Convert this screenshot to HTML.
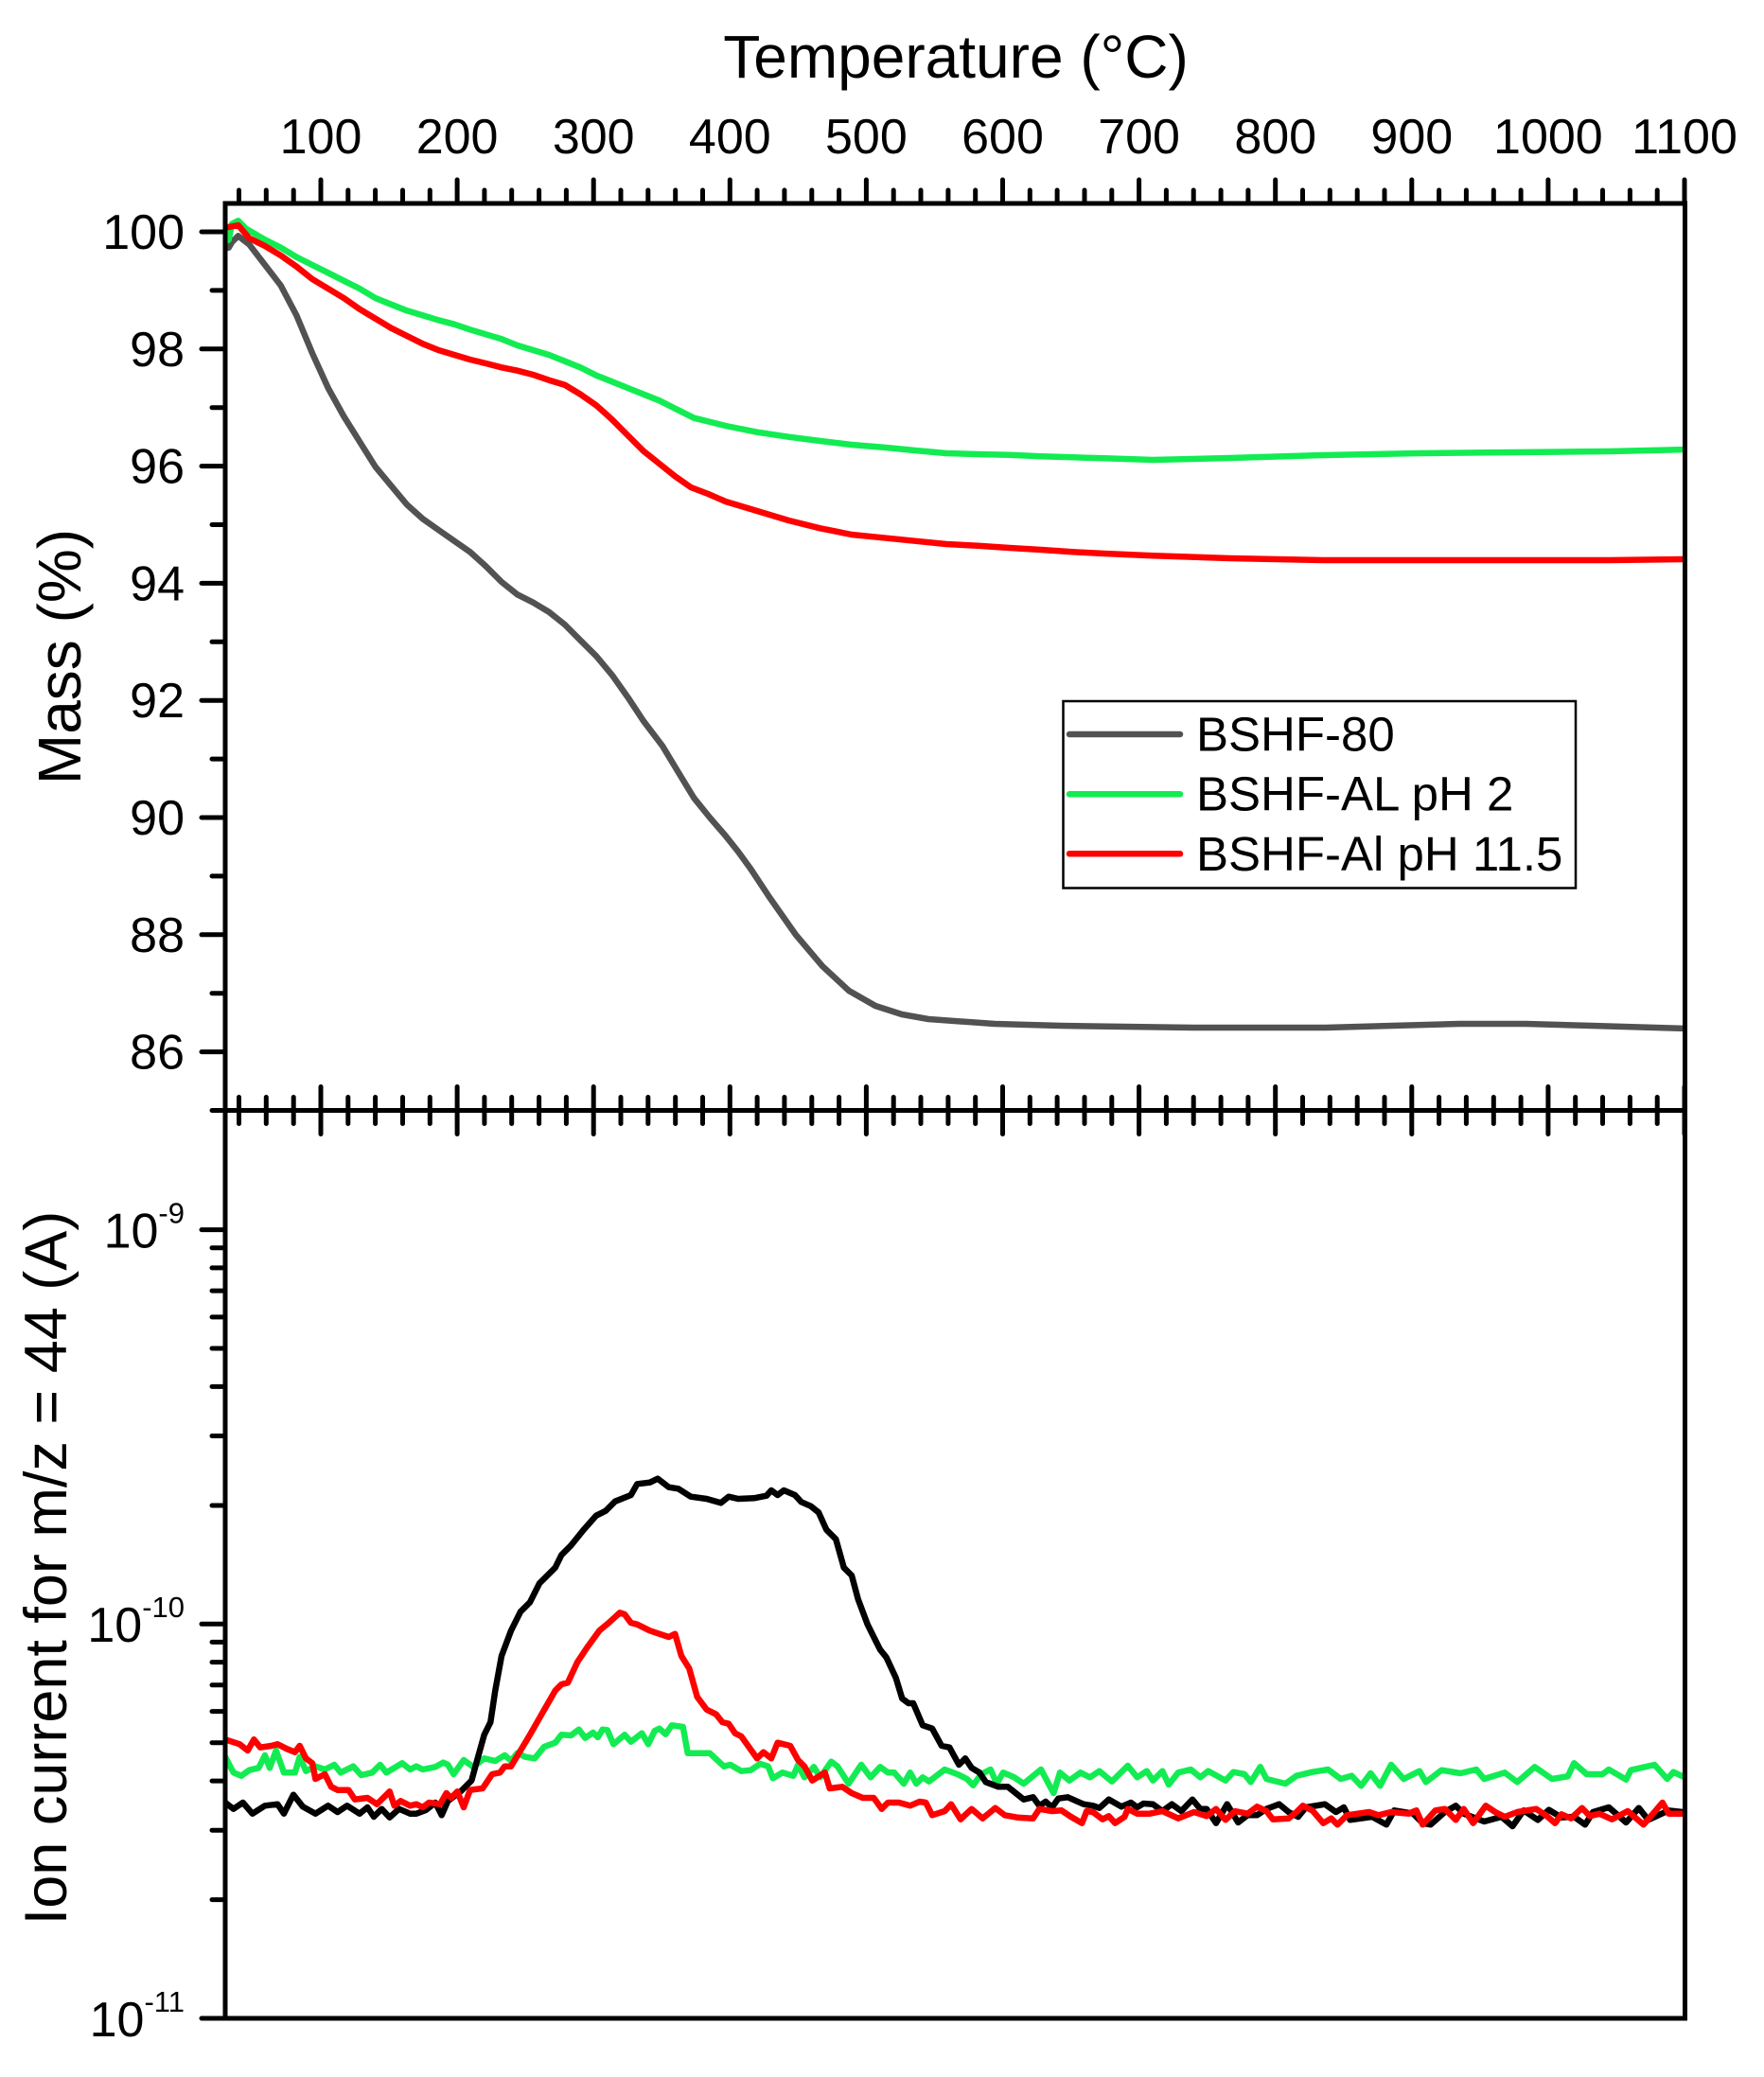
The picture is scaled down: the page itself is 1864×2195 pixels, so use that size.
<!DOCTYPE html>
<html>
<head>
<meta charset="utf-8">
<style>
html,body{margin:0;padding:0;background:#fff;}
svg{display:block;}
text{font-family:"Liberation Sans",Arial,sans-serif;fill:#000;}
</style>
</head>
<body>
<svg width="1864" height="2195" viewBox="0 0 1864 2195" xmlns="http://www.w3.org/2000/svg">
<defs>
<clipPath id="cTop"><rect x="238" y="215" width="1542.5" height="958.5"/></clipPath>
<clipPath id="cBot"><rect x="238" y="1173.5" width="1542.5" height="959.5"/></clipPath>
</defs>
<rect width="1864" height="2195" fill="#fff"/>

<!-- Title -->
<text x="1010" y="82" font-size="64" text-anchor="middle">Temperature (°C)</text>

<!-- Top tick labels -->
<g font-size="52" text-anchor="middle">
<text x="339" y="162">100</text>
<text x="483.1" y="162">200</text>
<text x="627.2" y="162">300</text>
<text x="771.3" y="162">400</text>
<text x="915.4" y="162">500</text>
<text x="1059.5" y="162">600</text>
<text x="1203.6" y="162">700</text>
<text x="1347.7" y="162">800</text>
<text x="1491.8" y="162">900</text>
<text x="1635.9" y="162">1000</text>
<text x="1780" y="162">1100</text>
</g>

<!-- Y labels top -->
<g font-size="52" text-anchor="end">
<text x="195" y="263">100</text>
<text x="195" y="386.8">98</text>
<text x="195" y="510.6">96</text>
<text x="195" y="634.4">94</text>
<text x="195" y="758.2">92</text>
<text x="195" y="882">90</text>
<text x="195" y="1005.8">88</text>
<text x="195" y="1129.6">86</text>
</g>

<!-- Y labels bottom (log) -->
<g font-size="52" text-anchor="end">
<text x="195" y="1318.5">10<tspan font-size="31" dy="-26">-9</tspan></text>
<text x="195" y="1735">10<tspan font-size="31" dy="-26">-10</tspan></text>
<text x="195" y="2152">10<tspan font-size="31" dy="-26">-11</tspan></text>
</g>

<!-- Axis titles -->
<text transform="translate(85,694) rotate(-90)" font-size="64" text-anchor="middle">Mass (%)</text>
<text transform="translate(70,1657) rotate(-90)" font-size="63" text-anchor="middle">Ion current for m/z = 44 (A)</text>

<!-- Curves top -->
<g clip-path="url(#cTop)" fill="none" stroke-width="6.5" stroke-linejoin="round" stroke-linecap="round">
<path stroke="#525252" d="M238,262 L241.7,261.7 L245,256 L251.7,249.3 L263.3,258.3 L280,280 L296.7,301.7 L313.3,333.3 L330,373.3 L346.7,410 L363.3,440 L380,466.7 L396.7,493.3 L413.3,513.3 L430,533.3 L446.7,548.3 L463.3,560 L480,571.7 L496.7,583.3 L513.3,598.3 L530,615 L546.7,628.3 L563.3,636.7 L580,646.7 L596.7,660 L613.3,676.7 L630,693.3 L646.7,713.3 L663.3,736.7 L680,762 L700,788.3 L716.7,816 L733.3,843.3 L750,864 L766.7,883.3 L780,900 L793.3,918.3 L812.9,948 L841,988 L869,1021 L897,1047 L925,1063 L953,1072 L981,1077 L1051,1082 L1121,1084 L1261,1086 L1401,1086 L1471,1084 L1542,1082 L1612,1082 L1682,1084 L1782,1087"/>
<path stroke="#12ec52" d="M238,255 L241.7,253.3 L245,236.7 L251.7,233.3 L260,241.7 L280,253.3 L296.7,261.7 L313.3,271.7 L330,280 L346.7,288.3 L363.3,296.7 L380,305 L396.7,315 L413.3,321.7 L430,328.3 L446.7,333.3 L463.3,338.3 L480,342.7 L496.7,348.3 L513.3,353.3 L530,358.3 L546.7,365 L563.3,370 L580,375 L596.7,381.7 L613.3,388.3 L630,396.7 L646.7,403.3 L663.3,410 L680,416.7 L696.7,423.3 L713.3,431.7 L733.3,441.7 L766.7,450 L800,456.7 L833.3,461.7 L866.7,466 L900,470 L933.3,472.7 L966.7,476 L1000,479 L1033.3,480 L1066.7,480.7 L1100,482.3 L1133.3,483.3 L1166.7,484.3 L1218.3,486 L1300,484 L1400,481 L1500,479 L1600,478 L1700,477 L1782,475"/>
<path stroke="#ff0000" d="M238,240 L241.7,240 L251.7,238 L263.3,251.7 L280,260 L296.7,270 L313.3,281.7 L330,295 L346.7,305 L363.3,315 L380,326.7 L396.7,336.7 L413.3,346.7 L430,355 L446.7,363.3 L463.3,370 L480,375 L496.7,380 L513.3,384 L530,388.3 L546.7,391.7 L563.3,396 L580,401.7 L596.7,406.7 L613.3,416.7 L630,428.3 L646.7,443.3 L663.3,460 L680,476.7 L696.7,490 L713.3,503.3 L730,515 L748.3,522 L766.7,530 L800,540 L833.3,550 L866.7,558.3 L900,565 L933.3,568.3 L966.7,571.7 L1000,575 L1033.3,576.7 L1066.7,579 L1100,581 L1133.3,583.3 L1166.7,585 L1218.3,587.3 L1300,590 L1400,592 L1500,592 L1600,592 L1700,592 L1782,591"/>
</g>

<!-- Curves bottom -->
<g clip-path="url(#cBot)" fill="none" stroke-width="6.5" stroke-linejoin="round" stroke-linecap="round">
<path stroke="#12ec52" d="M238,1856.7 L246.7,1873.3 L255,1876.7 L263.3,1870.7 L273.3,1868.3 L280,1855 L285,1868.3 L291.7,1850 L300,1873.3 L311.7,1873.3 L316.7,1856.7 L323.3,1871.7 L333.3,1866.7 L343.3,1870 L353.3,1865 L360,1873.3 L373.3,1866.7 L381.7,1876 L393.3,1873.3 L401.7,1865 L408.3,1873.3 L416.7,1868.3 L425,1863.3 L433.3,1870 L440,1866.7 L446.7,1870 L460,1867.3 L468.3,1862.7 L473.3,1865 L479.3,1875 L490,1860 L500,1867.3 L511.7,1858.3 L523.3,1861 L533.3,1855 L540,1860.7 L546.7,1852.7 L555,1856.7 L565,1858.3 L575,1846 L586.7,1841.7 L593.3,1833.3 L603.3,1834 L611.7,1827.7 L618.3,1836.7 L626.7,1831 L631.7,1836 L636.7,1827.7 L641.7,1828.3 L648.3,1843.3 L660,1833.3 L666.7,1840.7 L678.3,1831.7 L685,1843.3 L691.7,1829.3 L696.7,1826.7 L703.3,1832.7 L710,1823.3 L721.7,1825 L726.7,1852.7 L750,1852.7 L765,1866.7 L771.7,1865 L783.3,1871.7 L793.3,1870.7 L803.3,1864 L811.7,1866.7 L816.7,1879.3 L826.7,1873.3 L838.3,1876.7 L843.3,1865 L850,1878.3 L860,1867.3 L866.7,1878.3 L878.3,1861.7 L885,1866.7 L896.7,1885 L910,1865 L920,1878.3 L930,1867.3 L938.3,1873.3 L945,1873.3 L955,1885 L961.7,1873.3 L968.3,1885 L975,1878.3 L981.7,1882.7 L998.3,1870 L1011.7,1875 L1021.7,1880 L1028.3,1886.7 L1036.7,1875 L1046.7,1870 L1053.3,1885 L1060,1873.3 L1071.7,1878.3 L1081.7,1885 L1100,1870 L1113.3,1895 L1120,1873.3 L1130,1881.7 L1141.7,1873.3 L1151.7,1878.3 L1161.7,1871.7 L1175,1882.7 L1191.7,1866 L1201.7,1878.3 L1211.7,1871.7 L1218.3,1881.7 L1228.3,1871.7 L1235,1886 L1245,1873.3 L1258.3,1870 L1268.3,1878.3 L1276.7,1871.7 L1295,1881.7 L1303.3,1872.7 L1315,1875 L1321.7,1883.3 L1331.7,1867.3 L1338.3,1880 L1358.3,1885 L1370,1876.7 L1386.7,1872.7 L1403.3,1870 L1416.7,1880 L1428.3,1876.7 L1438.3,1887.3 L1448.3,1874 L1458.3,1887.3 L1470,1865 L1483.3,1880 L1500,1871.7 L1506.7,1883.3 L1523.3,1870.7 L1543.3,1874 L1560,1870 L1568.3,1880 L1590,1873.3 L1603.3,1883.3 L1621.7,1867.3 L1640,1880 L1656.7,1877.3 L1663.3,1863.3 L1676.7,1875 L1693.3,1875 L1700,1870 L1718.3,1880.7 L1723.3,1870.7 L1748.3,1865 L1761.7,1880 L1768.3,1872.7 L1778,1877.3"/>
<path stroke="#000000" d="M238,1905 L246.7,1911.7 L256.7,1905 L266.7,1916.7 L280,1908.3 L293.3,1906.7 L300,1916.7 L310,1896.7 L320,1909.3 L333.3,1916.7 L346.7,1908.3 L356.7,1915 L366.7,1908.3 L380,1916.7 L388.3,1910 L395,1920 L403.3,1911.7 L411.7,1920.7 L421.7,1911.7 L433.3,1916.7 L440,1916.7 L450,1913 L460,1905 L466.7,1918.3 L473.3,1903.3 L486.7,1893.3 L498.3,1881.7 L503.3,1863.3 L511.7,1833.3 L518.3,1820 L523.3,1786.7 L530,1750 L540,1723.3 L550,1703.3 L560,1693.3 L570,1673.3 L576.7,1666.7 L586.7,1656.7 L593.3,1643.3 L603.3,1633.3 L616.7,1616.7 L630,1601.7 L640,1596.7 L650,1586.7 L666.7,1580 L673.3,1568.3 L686.7,1566.7 L695,1562.7 L706.7,1571.7 L716.7,1573.3 L730,1581.7 L746.7,1584 L761.7,1588.3 L770,1581.7 L780,1584 L796.7,1583.3 L810,1580.7 L815,1575 L821.7,1580 L828.3,1575 L840,1580 L846.7,1587.3 L856.7,1591.7 L865,1598.3 L873.3,1616.7 L883.3,1626.7 L891.7,1656.7 L900,1665 L906.7,1690 L916.7,1716.7 L923.3,1730 L930,1743.3 L936.7,1751.7 L946.7,1773.3 L953.3,1795 L960,1800 L965,1800 L975,1823.3 L985,1826.7 L995,1845 L1003.3,1846.7 L1013.3,1865 L1020,1858.3 L1026.7,1868.3 L1035,1873.3 L1041.7,1883.3 L1055,1888.3 L1065,1888.3 L1081.7,1901.7 L1091.7,1899.3 L1098.3,1908.3 L1105,1904 L1111.7,1910 L1118.3,1900.7 L1128.3,1899.3 L1145,1906.7 L1155,1908.3 L1161.7,1910.7 L1171.7,1901.7 L1185,1909.3 L1195,1905 L1201.7,1910 L1208.3,1906 L1218.3,1906.7 L1228.3,1914 L1238.3,1906.7 L1248.3,1914 L1260,1901.7 L1268.3,1911.7 L1275,1911.7 L1285,1926.7 L1296.7,1906.7 L1308.3,1926 L1318.3,1918.3 L1328.3,1918.3 L1338.3,1911.7 L1351.7,1906.7 L1361.7,1915 L1371.7,1920 L1380,1910 L1400,1906.7 L1411.7,1915 L1420,1910 L1426.7,1923.3 L1450,1920 L1465,1928.3 L1473.3,1913.3 L1483.3,1915 L1493.3,1916.7 L1503.3,1926.7 L1511.7,1928.3 L1526.7,1915 L1538.3,1908.3 L1546.7,1916.7 L1568.3,1925 L1586.7,1920 L1598.3,1930 L1610,1913.3 L1625,1923.3 L1636.7,1912.7 L1650,1920.7 L1663.3,1920 L1675,1928.3 L1683.3,1915 L1700,1910 L1718.3,1926 L1731.7,1910.7 L1741.7,1923.3 L1763.3,1913.3 L1778,1915"/>
<path stroke="#ff0000" d="M238,1838.3 L253.3,1843.3 L261.7,1850 L268.3,1838.3 L275,1846.7 L286.7,1845 L293.3,1843.3 L303.3,1848.3 L311.7,1851.7 L316.7,1845 L323.3,1858.3 L330,1863.3 L333.3,1880 L343.3,1875 L350,1888.3 L356.7,1891.7 L368.3,1891.7 L375,1901.7 L388.3,1900 L398.3,1906.7 L411.7,1893.3 L416.7,1908.3 L423.3,1903.3 L433.3,1908.3 L440,1906.7 L446.7,1910 L453.3,1905 L465,1906.7 L471.7,1895 L476.7,1900 L483.3,1893.3 L490,1910 L496.7,1891.7 L510,1890 L520,1875 L528.3,1873.3 L533.3,1866.7 L540,1866.7 L550,1850 L560,1833.3 L573.3,1810 L586.7,1786.7 L593.3,1780 L600,1778.3 L610,1756.7 L620,1741.7 L633.3,1723.3 L643.3,1715 L655,1704.3 L660,1706 L666.7,1715 L673.3,1716.7 L686.7,1723.3 L696.7,1726.7 L706.7,1730 L713.3,1726.7 L720,1750 L728.3,1763.3 L736.7,1793.3 L746.7,1806.7 L756.7,1811.7 L763.3,1820 L770,1821.7 L776.7,1831.7 L783.3,1835 L800,1858.3 L806.7,1851.7 L815,1858.3 L821.7,1841.7 L835,1845 L843.3,1860 L850,1866.7 L858.3,1881.7 L871.7,1873.3 L876.7,1890 L890,1888.3 L900,1895 L911.7,1900 L923.3,1900 L931.7,1911.7 L938.3,1905 L950,1905 L961.7,1908.3 L971.7,1904 L978.3,1905 L985,1918.3 L998.3,1914 L1005,1906.7 L1015,1922.7 L1026.7,1911.7 L1038.3,1921.7 L1051.7,1910.7 L1061.7,1918.3 L1075,1920.7 L1091.7,1921.7 L1098.3,1911.7 L1111.7,1914 L1121.7,1913.3 L1131.7,1920 L1143.3,1926.7 L1148.3,1914 L1155,1915 L1165,1922.7 L1171.7,1919.3 L1178.3,1926.7 L1188.3,1920 L1191.7,1911.7 L1201.7,1916.7 L1215,1916.7 L1228.3,1914 L1245,1921.7 L1261.7,1915 L1275,1919.3 L1285,1911.7 L1295,1923.3 L1305,1914 L1318.3,1916.7 L1328.3,1909.3 L1338.3,1914 L1345,1922.7 L1361.7,1921.7 L1370,1915 L1376.7,1908.3 L1386.7,1913.3 L1398.3,1926.7 L1406.7,1921.7 L1413.3,1928.3 L1423.3,1918.3 L1446.7,1915 L1456.7,1918.3 L1470,1915 L1488.3,1916.7 L1496.7,1913.3 L1503.3,1928.3 L1516.7,1913.3 L1526.7,1911.7 L1538.3,1923.3 L1546.7,1911.7 L1556.7,1926.7 L1570,1908.3 L1580,1915 L1590,1920 L1603.3,1915 L1623.3,1911.7 L1633.3,1918.3 L1643.3,1926.7 L1650,1917.3 L1660,1921.7 L1671.7,1910.7 L1680,1919.3 L1690,1916.7 L1703.3,1922.7 L1720,1914 L1736.7,1928.3 L1746.7,1916.7 L1756.7,1905 L1763.3,1916.7 L1778,1916.7"/>
</g>

<!-- Axes -->
<g stroke="#000" stroke-width="5" fill="none" stroke-linecap="round">
<rect x="238" y="215" width="1542.5" height="1918" stroke-linecap="butt"/>
<line x1="238" y1="1173.5" x2="1780.5" y2="1173.5"/>
</g>

<!-- Ticks -->
<g stroke="#000" stroke-width="5" stroke-linecap="round">
<path d="M339,215V190 M483.1,215V190 M627.2,215V190 M771.3,215V190 M915.4,215V190 M1059.5,215V190 M1203.6,215V190 M1347.7,215V190 M1491.8,215V190 M1635.9,215V190 M1780,215V190"/>
<path d="M252.5,215V201 M281.3,215V201 M310.2,215V201 M367.8,215V201 M396.6,215V201 M425.5,215V201 M454.3,215V201 M511.9,215V201 M540.7,215V201 M569.6,215V201 M598.4,215V201 M656,215V201 M684.8,215V201 M713.7,215V201 M742.5,215V201 M800.1,215V201 M828.9,215V201 M857.8,215V201 M886.6,215V201 M944.2,215V201 M973,215V201 M1001.9,215V201 M1030.7,215V201 M1088.3,215V201 M1117.1,215V201 M1146,215V201 M1174.8,215V201 M1232.4,215V201 M1261.2,215V201 M1290.1,215V201 M1318.9,215V201 M1376.5,215V201 M1405.3,215V201 M1434.2,215V201 M1463,215V201 M1520.6,215V201 M1549.4,215V201 M1578.3,215V201 M1607.1,215V201 M1664.7,215V201 M1693.5,215V201 M1722.4,215V201 M1751.2,215V201"/>
<path d="M339,1148.5V1198.5 M483.1,1148.5V1198.5 M627.2,1148.5V1198.5 M771.3,1148.5V1198.5 M915.4,1148.5V1198.5 M1059.5,1148.5V1198.5 M1203.6,1148.5V1198.5 M1347.7,1148.5V1198.5 M1491.8,1148.5V1198.5 M1635.9,1148.5V1198.5 M1780,1148.5V1198.5"/>
<path d="M252.5,1159.5V1187.5 M281.3,1159.5V1187.5 M310.2,1159.5V1187.5 M367.8,1159.5V1187.5 M396.6,1159.5V1187.5 M425.5,1159.5V1187.5 M454.3,1159.5V1187.5 M511.9,1159.5V1187.5 M540.7,1159.5V1187.5 M569.6,1159.5V1187.5 M598.4,1159.5V1187.5 M656,1159.5V1187.5 M684.8,1159.5V1187.5 M713.7,1159.5V1187.5 M742.5,1159.5V1187.5 M800.1,1159.5V1187.5 M828.9,1159.5V1187.5 M857.8,1159.5V1187.5 M886.6,1159.5V1187.5 M944.2,1159.5V1187.5 M973,1159.5V1187.5 M1001.9,1159.5V1187.5 M1030.7,1159.5V1187.5 M1088.3,1159.5V1187.5 M1117.1,1159.5V1187.5 M1146,1159.5V1187.5 M1174.8,1159.5V1187.5 M1232.4,1159.5V1187.5 M1261.2,1159.5V1187.5 M1290.1,1159.5V1187.5 M1318.9,1159.5V1187.5 M1376.5,1159.5V1187.5 M1405.3,1159.5V1187.5 M1434.2,1159.5V1187.5 M1463,1159.5V1187.5 M1520.6,1159.5V1187.5 M1549.4,1159.5V1187.5 M1578.3,1159.5V1187.5 M1607.1,1159.5V1187.5 M1664.7,1159.5V1187.5 M1693.5,1159.5V1187.5 M1722.4,1159.5V1187.5 M1751.2,1159.5V1187.5"/>
<path d="M238,245H213 M238,368.8H213 M238,492.6H213 M238,616.4H213 M238,740.2H213 M238,864H213 M238,987.8H213 M238,1111.6H213"/>
<path d="M238,306.9H224 M238,430.7H224 M238,554.5H224 M238,678.3H224 M238,802.1H224 M238,925.9H224 M238,1049.7H224 M238,1173.5H224"/>
<path d="M238,1299.6H213 M238,1716.3H213 M238,2133H213"/>
<path d="M238,1318.7H224 M238,1339.9H224 M238,1364.1H224 M238,1391.9H224 M238,1425H224 M238,1465.4H224 M238,1517.5H224 M238,1591H224 M238,1735.4H224 M238,1756.6H224 M238,1780.8H224 M238,1808.6H224 M238,1841.7H224 M238,1882.1H224 M238,1934.2H224 M238,2007.6H224"/>
</g>

<!-- Legend -->
<rect x="1123.5" y="741" width="541.5" height="197.5" fill="#fff" stroke="#000" stroke-width="2.5"/>
<g stroke-width="6.5" stroke-linecap="round">
<line x1="1130" y1="776" x2="1247" y2="776" stroke="#525252"/>
<line x1="1130" y1="839.3" x2="1247" y2="839.3" stroke="#12ec52"/>
<line x1="1130" y1="902.3" x2="1247" y2="902.3" stroke="#ff0000"/>
</g>
<g font-size="51">
<text x="1264" y="793.3">BSHF-80</text>
<text x="1264" y="856.7">BSHF-AL pH 2</text>
<text x="1264" y="920">BSHF-Al pH 11.5</text>
</g>
</svg>
</body>
</html>
